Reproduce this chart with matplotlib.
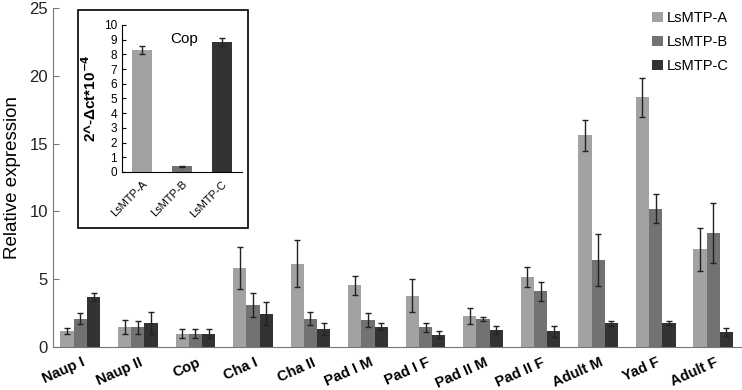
import matplotlib.pyplot as plt
import numpy as np
from matplotlib.patches import Rectangle

plt.rcParams['font.family'] = ['Liberation Sans', 'DejaVu Sans']

stages = ['Naup I', 'Naup II', 'Cop', 'Cha I', 'Cha II', 'Pad I M', 'Pad I F',
          'Pad II M', 'Pad II F', 'Adult M', 'Yad F', 'Adult F']
mtp_a = [1.2, 1.5, 1.0, 5.85, 6.15, 4.55, 3.8, 2.3, 5.15, 15.6, 18.4, 7.2]
mtp_a_err = [0.2, 0.5, 0.3, 1.55, 1.75, 0.7, 1.2, 0.6, 0.75, 1.15, 1.45, 1.6]
mtp_b = [2.1, 1.45, 1.0, 3.1, 2.1, 2.0, 1.45, 2.1, 4.1, 6.4, 10.2, 8.4]
mtp_b_err = [0.4, 0.45, 0.35, 0.85, 0.5, 0.5, 0.35, 0.15, 0.7, 1.9, 1.05, 2.2]
mtp_c = [3.7, 1.8, 1.0, 2.45, 1.35, 1.5, 0.9, 1.25, 1.15, 1.75, 1.8, 1.1]
mtp_c_err = [0.3, 0.8, 0.3, 0.85, 0.45, 0.25, 0.25, 0.3, 0.4, 0.2, 0.15, 0.3]

genes = ['LsMTP-A', 'LsMTP-B', 'LsMTP-C']
cop_vals = [8.3, 0.4, 8.85]
cop_err = [0.25, 0.04, 0.27]

colors = ['#a2a2a2', '#727272', '#333333']

fig = plt.figure(figsize=(7.42, 3.90), dpi=100)
ax = fig.add_axes([0.071, 0.11, 0.929, 0.87])

x = np.arange(len(stages))
w = 0.23
ek = dict(ecolor='#222222', elinewidth=1, capsize=2.5, capthick=1)
for i, (vals, errs) in enumerate([(mtp_a, mtp_a_err), (mtp_b, mtp_b_err), (mtp_c, mtp_c_err)]):
    ax.bar(x + (i - 1) * w, vals, w, yerr=errs, color=colors[i], label=genes[i],
           error_kw=ek)

ax.set_xlim(-0.48, 11.5)
ax.set_ylim(0, 25)
ax.set_yticks([0, 5, 10, 15, 20, 25])
ax.set_xticks(x + 0.02)
ax.set_xticklabels(stages, rotation=24, ha='right', fontweight='bold', fontsize=10.5,
                   rotation_mode='anchor')
ax.tick_params(axis='x', length=0, pad=6)
ax.tick_params(axis='y', labelsize=12, labelcolor='#222222', color='#777777',
               direction='in', length=4)
ax.set_ylabel('Relative expression', fontsize=13.5, labelpad=6)
for s in ['top', 'right']:
    ax.spines[s].set_visible(False)
ax.spines['left'].set_color('#777777')
ax.spines['bottom'].set_color('#777777')

ax.legend(loc='upper right', bbox_to_anchor=(1.0, 1.03), frameon=False, fontsize=10.5,
          handlelength=0.7, handleheight=0.7, handletextpad=0.3, labelspacing=0.7)

# inset box
fig.patches.append(Rectangle((0.105, 0.415), 0.229, 0.559, transform=fig.transFigure,
                             fill=False, edgecolor='black', linewidth=1.2, zorder=5))

axi = fig.add_axes([0.164, 0.559, 0.162, 0.377])
xi = np.arange(len(genes))
axi.bar(xi, cop_vals, 0.5, yerr=cop_err, color=colors,
        error_kw=dict(ecolor='#222222', elinewidth=1, capsize=2.5, capthick=1))
axi.set_xlim(-0.5, 2.5)
axi.set_ylim(0, 10)
axi.set_yticks(range(0, 11))
axi.tick_params(axis='y', labelsize=8.5, direction='in', length=3)
axi.set_xticks(xi)
axi.set_xticklabels(genes, rotation=45, ha='right', fontsize=8, rotation_mode='anchor')
axi.tick_params(axis='x', length=0, pad=5)
axi.set_ylabel(r'2^-Δct*10$^{\mathbf{-4}}$', fontsize=11, fontweight='bold', labelpad=3)
axi.text(0.52, 0.95, 'Cop', transform=axi.transAxes, ha='center', va='top', fontsize=11)
for s in ['top', 'right']:
    axi.spines[s].set_visible(False)

fig.savefig('out.png', dpi=100)
